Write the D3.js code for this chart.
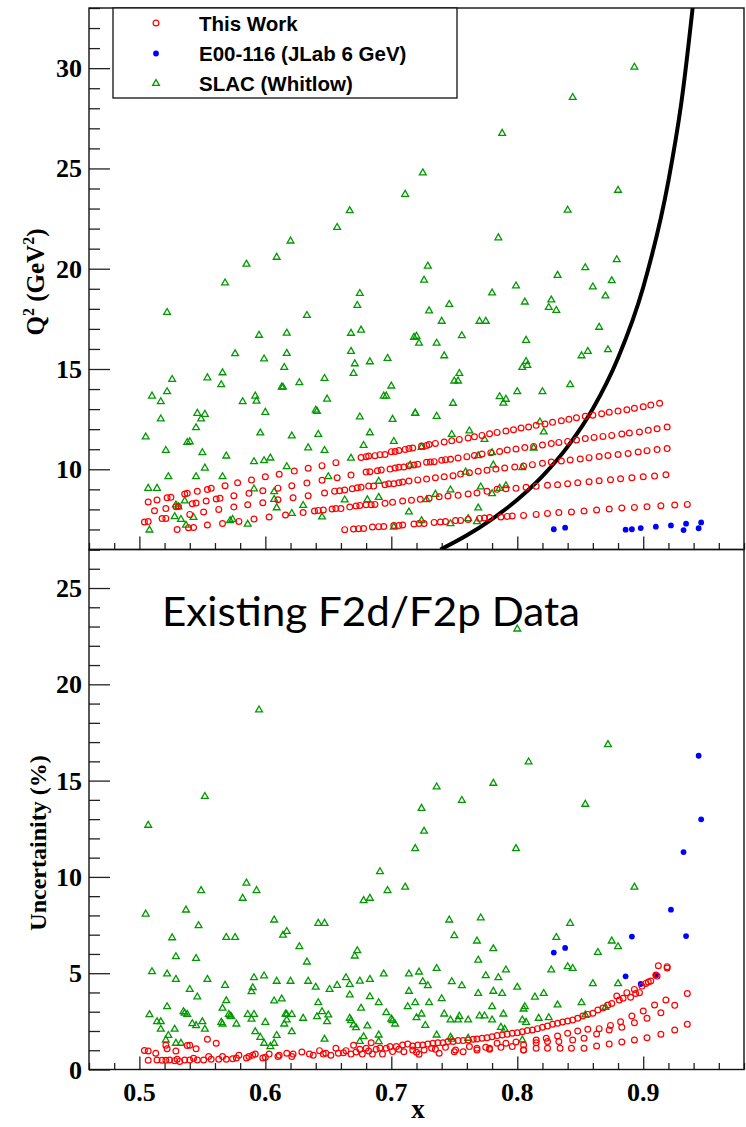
<!DOCTYPE html>
<html>
<head>
<meta charset="utf-8">
<script src="https://cdn.jsdelivr.net/npm/d3@7"></script>
<style>
  body { margin: 0; background: #fff; }
  .tick-label { font-family: "Liberation Serif", serif; font-weight: bold; font-size: 26px; fill: #000; }
  .legend-text { font-family: "Liberation Sans", Arial, sans-serif; font-weight: bold; font-size: 20.5px; fill: #000; }
</style>
</head>
<body>
<div id="chart"></div>
<script>
// ---- data ----
// This Work, top panel: [x, Q2 (GeV^2)]
const thisWorkQ2 = [
  [0.504,7.37],[0.507,7.39],[0.507,8.37],[0.514,8.47],[0.522,8.58],[0.525,8.60],[0.512,7.93],[0.521,8.04],
  [0.518,7.54],[0.521,7.55],[0.530,7.00],[0.529,8.13],[0.531,8.15],[0.536,8.77],[0.538,8.80],[0.540,7.75],
  [0.542,8.28],[0.545,8.32],[0.539,7.09],[0.543,7.10],[0.546,8.90],[0.551,7.87],[0.553,8.42],[0.554,8.99],
  [0.557,9.05],[0.554,7.22],[0.561,8.52],[0.564,8.55],[0.563,8.00],[0.566,7.30],[0.568,9.18],[0.575,8.12],
  [0.575,8.68],[0.578,9.33],[0.579,7.40],[0.586,8.23],[0.587,8.80],[0.589,9.46],[0.591,7.52],[0.598,8.33],
  [0.598,8.93],[0.600,9.63],[0.603,7.62],[0.610,8.48],[0.610,9.06],[0.611,9.75],[0.616,7.72],[0.621,9.18],
  [0.622,8.58],[0.623,9.91],[0.630,7.84],[0.633,9.31],[0.634,8.68],[0.634,10.05],[0.639,7.92],[0.642,7.95],
  [0.646,7.97],[0.645,9.45],[0.647,8.82],[0.645,10.18],[0.653,8.02],[0.656,8.04],[0.660,8.04],[0.657,9.58],
  [0.656,10.33],[0.655,8.91],[0.659,8.93],[0.663,8.97],[0.663,6.99],[0.670,7.02],[0.674,7.04],[0.678,7.05],
  [0.668,9.71],[0.667,8.12],[0.669,9.03],[0.673,9.08],[0.676,9.10],[0.672,8.17],[0.675,8.20],[0.676,10.59],
  [0.680,10.63],[0.682,10.66],[0.680,9.86],[0.683,9.88],[0.680,8.23],[0.684,8.23],[0.687,8.25],[0.685,7.12],
  [0.690,7.14],[0.694,7.15],[0.682,9.16],[0.686,9.16],[0.687,10.68],[0.691,10.73],[0.695,10.74],[0.689,9.93],
  [0.692,9.96],[0.695,8.30],[0.695,9.23],[0.698,9.28],[0.702,9.28],[0.702,7.20],[0.699,10.01],[0.703,10.06],
  [0.700,10.88],[0.703,10.89],[0.701,8.35],[0.706,7.20],
  // row A
  [0.706,10.94],[0.711,10.99],[0.714,11.03],[0.717,11.06],[0.724,11.16],[0.728,11.19],[0.730,11.23],[0.735,11.29],
  [0.742,11.36],[0.748,11.42],[0.754,11.49],[0.761,11.56],[0.766,11.62],[0.772,11.69],[0.778,11.77],[0.784,11.84],
  [0.791,11.91],[0.797,11.97],[0.803,12.06],[0.809,12.11],[0.815,12.19],[0.822,12.26],[0.828,12.34],[0.835,12.42],
  [0.841,12.49],[0.847,12.57],[0.854,12.64],[0.860,12.70],[0.867,12.77],[0.873,12.84],[0.880,12.90],[0.887,12.97],
  [0.893,13.04],[0.900,13.12],[0.906,13.20],[0.913,13.29],
  // row B
  [0.706,10.10],[0.710,10.11],[0.714,10.18],[0.718,10.21],[0.721,10.25],[0.728,10.35],[0.731,10.36],[0.734,10.38],
  [0.740,10.45],[0.743,10.48],[0.747,10.50],[0.753,10.56],[0.760,10.63],[0.766,10.69],[0.772,10.76],[0.779,10.83],
  [0.786,10.89],[0.792,10.96],[0.799,11.01],[0.806,11.08],[0.813,11.14],[0.820,11.21],[0.827,11.28],[0.833,11.34],
  [0.840,11.39],[0.847,11.46],[0.854,11.53],[0.861,11.59],[0.868,11.64],[0.875,11.69],[0.883,11.76],[0.889,11.81],
  [0.897,11.86],[0.904,11.94],[0.911,12.02],[0.919,12.11],
  // row C
  [0.706,9.33],[0.709,9.36],[0.714,9.41],[0.721,9.47],[0.728,9.51],[0.735,9.58],[0.742,9.63],[0.749,9.68],
  [0.755,9.76],[0.762,9.83],[0.769,9.90],[0.776,9.95],[0.783,10.01],[0.790,10.06],[0.798,10.11],[0.805,10.16],
  [0.812,10.23],[0.820,10.30],[0.827,10.36],[0.835,10.41],[0.842,10.46],[0.850,10.51],[0.857,10.58],[0.865,10.64],
  [0.872,10.69],[0.880,10.74],[0.888,10.79],[0.896,10.86],[0.903,10.93],[0.911,10.98],[0.919,11.03],
  // row D
  [0.709,8.42],[0.716,8.45],[0.723,8.50],[0.730,8.55],[0.738,8.63],[0.745,8.67],[0.753,8.70],[0.761,8.77],
  [0.768,8.82],[0.776,8.90],[0.784,9.00],[0.791,9.03],[0.799,9.05],[0.807,9.10],[0.815,9.15],[0.824,9.20],
  [0.832,9.23],[0.840,9.28],[0.848,9.33],[0.857,9.38],[0.865,9.43],[0.874,9.48],[0.882,9.53],[0.891,9.58],
  [0.900,9.63],[0.909,9.66],[0.918,9.73],
  // row E
  [0.709,7.22],[0.718,7.27],[0.722,7.30],[0.726,7.30],[0.734,7.35],[0.739,7.37],[0.743,7.39],[0.751,7.44],
  [0.755,7.45],[0.761,7.50],[0.770,7.55],[0.774,7.57],[0.778,7.59],[0.787,7.62],[0.792,7.65],[0.796,7.67],
  [0.805,7.70],[0.815,7.75],[0.824,7.80],[0.833,7.84],[0.843,7.87],[0.853,7.92],[0.863,7.97],[0.873,8.02],
  [0.883,8.07],[0.893,8.10],[0.903,8.13],[0.914,8.18],[0.925,8.22],[0.935,8.25]
];

// E00-116 (JLab 6 GeV): x, Q2 and uncertainty (%)
const e116X   = [0.829, 0.838, 0.886, 0.891, 0.898, 0.910, 0.922, 0.932, 0.934, 0.944, 0.946];
const e116Q2  = [7.01, 7.09, 6.99, 7.01, 7.07, 7.14, 7.20, 6.97, 7.29, 7.06, 7.35];
const e116Unc = [6.07, 6.31, 4.84, 6.90, 4.44, 4.89, 8.30, 11.29, 6.93, 16.29, 12.99];

// SLAC (Whitlow), top panel: [x, Q2]
const slacQ2 = [
  [0.711,23.71],[0.667,22.89],[0.657,22.06],[0.620,21.38],[0.609,20.57],[0.585,20.23],[0.568,19.29],[0.675,18.77],
  [0.673,18.17],[0.522,17.82],[0.633,17.67],[0.595,16.68],[0.617,16.79],[0.668,16.78],[0.676,16.94],[0.576,15.76],
  [0.617,15.78],[0.599,15.50],[0.668,15.88],[0.671,15.26],[0.683,15.36],[0.697,15.53],[0.615,15.08],[0.566,14.81],
  [0.670,14.78],[0.718,16.58],
  [0.505,11.61],[0.510,13.65],[0.526,14.48],[0.522,13.87],[0.517,13.37],[0.517,12.51],[0.521,10.94],[0.523,9.63],
  [0.507,9.05],[0.514,9.05],[0.529,8.22],[0.531,8.13],[0.528,7.64],[0.533,7.50],[0.537,7.21],[0.508,6.97],
  [0.536,8.42],[0.538,11.34],[0.540,11.37],[0.545,12.07],[0.545,9.63],[0.549,12.51],[0.546,12.79],[0.552,12.74],
  [0.550,10.83],[0.552,10.06],[0.554,14.56],[0.565,14.22],[0.569,10.66],[0.566,9.63],[0.543,7.60],[0.572,7.44],
  [0.574,7.50],[0.586,7.26],[0.582,13.37],[0.591,10.38],[0.591,9.02],[0.592,13.65],[0.593,13.40],[0.596,11.81],
  [0.599,10.43],[0.600,12.84],[0.604,10.56],[0.607,8.88],[0.607,8.50],[0.609,8.08],[0.617,10.13],[0.613,14.10],
  [0.614,14.09],[0.621,11.66],[0.621,7.80],[0.627,14.32],[0.630,8.20],[0.634,11.07],[0.640,12.95],[0.641,12.89],
  [0.642,11.74],[0.645,7.62],[0.647,10.94],[0.647,14.53],[0.649,13.50],[0.650,9.63],[0.663,8.47],[0.668,10.55],
  [0.675,12.61],[0.678,11.19],[0.681,8.48],[0.683,11.82],[0.690,9.40],[0.690,8.60],[0.694,13.65],[0.696,13.65],
  [0.700,14.15],[0.701,12.49],[0.702,11.39],[0.714,7.87],[0.719,12.80],[0.724,7.44],[0.724,11.09],[0.728,8.48],
  [0.735,8.75],[0.736,12.64],[0.702,7.12],
  [0.893,30.05],[0.844,28.54],[0.788,26.75],[0.725,24.78],[0.880,23.91],[0.840,22.92],[0.785,21.54],[0.729,20.13],
  [0.726,19.43],[0.879,20.45],[0.854,20.05],[0.832,19.67],[0.875,19.40],[0.860,19.09],[0.799,19.14],[0.780,18.79],
  [0.870,18.64],[0.746,18.22],[0.806,18.34],[0.827,18.44],[0.825,18.07],[0.831,17.92],[0.730,17.90],[0.740,17.38],
  [0.770,17.38],[0.775,17.38],[0.865,17.08],[0.756,16.66],[0.720,16.63],[0.722,16.29],[0.736,16.29],[0.807,16.43],
  [0.872,15.96],[0.856,15.88],[0.851,15.66],[0.742,15.66],[0.807,15.38],[0.808,15.18],[0.804,15.08],
  [0.754,14.78],[0.750,14.40],[0.753,14.40],[0.842,14.22],[0.786,13.62],[0.791,13.49],[0.789,13.30],[0.800,13.87],
  [0.820,13.87],[0.749,13.29],[0.719,12.79],[0.748,11.74],[0.762,11.91],[0.774,11.49],[0.821,11.86],[0.818,12.36],
  [0.769,10.68],[0.780,10.83],[0.813,11.06],[0.781,10.21],[0.804,10.08],[0.715,10.21],[0.759,9.86],[0.747,8.97],
  [0.771,9.12],[0.780,8.78],[0.786,9.05],[0.791,9.18],[0.769,8.07],[0.747,7.29],[0.768,7.39],[0.761,7.54]
];

// This Work, bottom panel: [x, uncertainty (%)]
const thisWorkUnc = [
  [0.504,0.99],[0.507,0.96],[0.513,0.84],[0.507,0.48],[0.514,0.49],[0.518,0.48],[0.521,0.48],[0.524,0.49],
  [0.528,0.46],[0.530,0.53],[0.532,0.42],[0.536,0.49],[0.540,0.49],[0.543,0.58],[0.546,0.49],[0.551,0.49],
  [0.555,0.67],[0.557,0.53],[0.563,0.53],[0.566,0.67],[0.569,0.53],[0.574,0.56],[0.577,0.60],[0.579,0.74],
  [0.585,0.60],[0.587,0.67],[0.590,0.74],[0.592,0.80],[0.598,0.60],[0.600,0.63],[0.603,0.80],[0.610,0.67],
  [0.611,0.74],[0.617,0.84],[0.621,0.67],[0.622,0.80],[0.629,0.91],[0.635,0.80],[0.638,0.74],[0.643,0.98],
  [0.646,0.80],[0.648,0.84],[0.652,0.74],[0.656,1.10],[0.658,0.84],[0.662,0.87],[0.664,0.98],[0.668,0.80],
  [0.670,1.26],[0.672,0.91],[0.675,1.05],[0.677,0.80],[0.680,1.10],[0.682,0.96],[0.684,1.39],[0.685,0.80],
  [0.688,1.05],[0.691,1.12],[0.693,0.80],[0.696,1.10],[0.699,1.19],[0.701,0.93],[0.704,1.19],[0.706,1.05],
  [0.521,1.26],[0.522,1.08],[0.529,0.96],[0.538,1.24],[0.540,1.26],[0.545,1.08],[0.554,1.57],[0.561,1.36],
  // upper band
  [0.709,1.27],[0.713,1.32],[0.717,1.22],[0.721,1.27],[0.725,1.27],[0.729,1.32],[0.733,1.36],[0.737,1.39],
  [0.741,1.39],[0.745,1.45],[0.749,1.45],[0.753,1.50],[0.757,1.50],[0.761,1.53],[0.765,1.57],[0.768,1.58],
  [0.772,1.62],[0.776,1.65],[0.780,1.70],[0.784,1.76],[0.788,1.79],[0.792,1.83],[0.796,1.88],[0.800,1.91],
  [0.804,1.96],[0.808,2.02],[0.812,2.05],[0.816,2.12],[0.820,2.19],[0.824,2.26],[0.828,2.35],[0.832,2.40],
  [0.836,2.47],[0.840,2.52],[0.844,2.57],[0.848,2.66],[0.852,2.78],[0.856,2.86],[0.860,2.92],[0.864,3.09],
  [0.868,3.19],[0.872,3.35],[0.875,3.43],[0.879,3.82],[0.881,3.61],[0.884,3.70],[0.887,3.99],[0.890,3.75],
  [0.893,4.16],[0.894,3.95],[0.897,3.99],[0.899,4.33],[0.902,4.47],[0.904,4.54],[0.906,4.59],[0.910,4.91],
  [0.911,4.85],[0.912,5.39],[0.919,5.34],[0.919,5.27],
  // middle band
  [0.710,0.92],[0.717,1.01],[0.722,0.79],[0.726,1.01],[0.732,1.10],[0.738,0.84],[0.743,1.15],[0.750,0.92],
  [0.757,0.92],[0.762,1.19],[0.768,1.01],[0.775,1.15],[0.778,1.05],[0.784,1.36],[0.791,1.36],[0.799,1.43],
  [0.805,1.27],[0.815,1.53],[0.823,1.62],[0.832,1.74],[0.840,1.88],[0.848,2.00],[0.856,2.09],[0.865,2.12],
  [0.874,2.29],[0.882,2.48],[0.891,2.78],[0.900,3.04],[0.909,3.35],[0.918,3.61],[0.925,3.33],[0.935,3.95],
  [0.914,2.95],[0.903,2.66],[0.893,2.43],[0.883,2.19],[0.873,2.05],[0.863,1.84],[0.853,1.62],[0.844,1.53],
  [0.833,1.45],[0.824,1.45],[0.815,1.39],[0.805,1.01],
  // lowest band
  [0.720,0.89],[0.735,1.05],[0.751,1.01],[0.768,1.10],[0.778,1.10],[0.787,1.15],[0.796,1.19],[0.805,1.01],
  [0.815,1.10],[0.824,1.10],[0.834,1.10],[0.843,1.10],[0.853,1.10],[0.863,1.22],[0.873,1.32],[0.883,1.43],
  [0.893,1.53],[0.903,1.65],[0.914,1.83],[0.925,2.05],[0.935,2.35]
];

// SLAC (Whitlow), bottom panel: [x, uncertainty (%)]
const slacUnc = [
  [0.800,22.87],[0.595,18.67],[0.552,14.18],[0.507,12.68],[0.549,9.29],[0.585,9.68],[0.593,9.29],[0.582,8.89],
  [0.678,8.77],[0.683,8.89],[0.691,10.27],[0.697,9.29],
  [0.505,8.07],[0.537,8.28],[0.547,7.47],[0.526,6.84],[0.529,5.86],[0.545,5.77],[0.510,5.08],[0.522,4.96],
  [0.529,4.68],[0.554,4.68],[0.540,4.16],[0.546,3.77],[0.522,3.26],[0.508,2.85],[0.514,2.48],[0.517,2.48],
  [0.517,2.09],[0.528,2.09],[0.523,1.77],[0.521,1.53],[0.529,1.36],[0.533,1.36],[0.535,3.00],[0.536,2.92],
  [0.538,2.86],[0.542,2.38],[0.545,2.28],[0.550,2.48],[0.552,2.09],[0.569,6.86],[0.576,6.86],[0.568,4.37],
  [0.566,3.18],[0.569,3.57],[0.565,2.45],[0.566,2.36],[0.571,2.86],[0.572,2.78],[0.573,2.74],[0.577,2.36],
  [0.586,2.86],[0.589,2.61],[0.591,2.86],[0.589,4.04],[0.590,4.25],[0.591,4.77],[0.599,4.86],[0.600,2.45],
  [0.592,1.96],[0.596,1.67],[0.599,1.36],[0.604,1.19],[0.607,1.36],[0.609,1.77],[0.607,3.56],[0.613,3.66],
  [0.609,4.58],[0.620,4.58],[0.616,2.88],[0.617,2.86],[0.617,2.57],[0.615,2.36],[0.621,2.86],[0.621,1.96],
  [0.630,2.66],[0.607,7.76],[0.614,6.97],[0.617,7.17],[0.627,6.38],[0.633,5.58],[0.642,7.59],[0.647,7.59],
  [0.634,4.58],[0.640,4.27],[0.642,3.47],[0.641,2.74],[0.645,3.00],[0.650,2.83],[0.649,2.48],[0.647,1.57],
  [0.651,4.16],[0.657,4.37],[0.664,4.77],[0.667,3.87],[0.667,2.66],[0.668,2.54],[0.670,2.31],[0.672,2.17],
  [0.667,4.42],[0.671,5.89],[0.673,6.17],[0.675,4.59],[0.676,3.18],[0.675,1.46],[0.678,1.70],[0.681,2.26],
  [0.683,4.68],[0.683,3.78],[0.690,3.47],[0.690,1.79],[0.690,1.45],[0.694,4.96],[0.696,2.95],[0.700,2.62],
  [0.701,2.54],[0.703,2.36],
  [0.872,16.87],[0.809,15.97],[0.736,14.67],[0.781,14.86],[0.756,13.97],[0.854,13.77],[0.724,13.56],[0.726,12.37],
  [0.719,11.47],[0.799,11.47],[0.711,9.47],[0.893,9.47],[0.746,7.76],[0.771,7.87],[0.750,6.95],[0.842,7.59],
  [0.831,6.86],[0.768,6.67],[0.781,6.27],[0.875,6.67],[0.880,6.38],[0.864,6.08],[0.714,4.96],[0.722,5.06],
  [0.736,5.25],[0.725,4.56],[0.729,4.35],[0.748,4.56],[0.756,4.35],[0.775,4.87],[0.785,4.77],[0.791,5.17],
  [0.769,5.68],[0.827,5.17],[0.840,5.34],[0.844,5.25],[0.860,4.46],[0.880,4.46],[0.800,4.27],[0.714,4.06],
  [0.769,3.95],[0.781,4.06],[0.788,3.95],[0.814,3.76],[0.821,3.95],[0.740,3.68],[0.719,3.47],[0.730,3.47],
  [0.780,3.26],[0.851,3.47],[0.832,3.35],[0.806,3.26],[0.805,3.14],[0.713,3.26],[0.742,2.88],[0.754,2.76],
  [0.747,2.57],[0.753,2.57],[0.761,2.57],[0.770,2.78],[0.774,2.78],[0.780,2.57],[0.789,2.88],[0.804,2.57],
  [0.807,2.45],[0.817,2.66],[0.825,2.69],[0.720,2.69],[0.724,2.88],[0.727,2.29],[0.787,2.19],[0.790,2.09],
  [0.736,1.79],[0.747,1.67],[0.748,1.57],[0.761,1.62],[0.804,1.53],[0.870,3.23],[0.854,2.83]
];

// black limit curve in the top panel
const curveX  = [0.739, 0.760, 0.780, 0.800, 0.820, 0.840, 0.860, 0.880, 0.900, 0.920, 0.930, 0.945];
const curveQ2 = [6.00, 6.71, 7.52, 8.48, 9.66, 11.13, 13.02, 15.55, 19.08, 24.38, 28.16, 36.4];

// tick labels
const xTicks   = [0.5, 0.6, 0.7, 0.8, 0.9];
const topTicks = [10, 15, 20, 25, 30];
const botTicks = [0, 5, 10, 15, 20, 25];

const legendNames = ["This Work", "E00-116 (JLab 6 GeV)", "SLAC (Whitlow)"];

// ---- layout ----
const W = 746, H = 1127;
const left = 89, right = 744;
const topY0 = 8, midY = 549.5, botY1 = 1069.5;

const svg = d3.select("#chart").append("svg")
  .attr("width", W).attr("height", H);

const x = d3.scaleLinear().domain([0.46, 0.98]).range([left, right]);
const yTop = d3.scaleLinear().domain([6, 33]).range([midY, topY0]);
const yBot = d3.scaleLinear().domain([0, 27]).range([botY1, midY]);

const RED = "#ff0000", BLUE = "#0000ff", GREEN = "#009a00";
const R = 2.9;

// clip paths
const defs = svg.append("defs");
defs.append("clipPath").attr("id", "clipTop").append("rect")
  .attr("x", left).attr("y", topY0).attr("width", right - left).attr("height", midY - topY0);
defs.append("clipPath").attr("id", "clipBot").append("rect")
  .attr("x", left).attr("y", midY).attr("width", right - left).attr("height", botY1 - midY);

const triPath = d3.symbol().type(d3.symbolTriangle).size(20)();

// draw axes for a panel
function drawAxes(yScale, y0, y1, majors, minorStep) {
  const g = svg.append("g");
  const [d0, d1] = yScale.domain();
  const minors = d3.range(Math.ceil(d0), d1 + 1e-9, minorStep).filter(v => majors.indexOf(v) < 0);

  // y minor + major ticks (inside the frame)
  g.append("g").attr("transform", `translate(${left},0)`)
    .call(d3.axisRight(yScale).tickValues(minors).tickSize(11).tickFormat(""))
    .call(a => a.select(".domain").remove());
  g.append("g").attr("transform", `translate(${left},0)`)
    .call(d3.axisRight(yScale).tickValues(majors).tickSize(21).tickFormat(""))
    .call(a => a.select(".domain").remove());

  // x ticks along bottom edge
  const xMin = d3.range(0.46, 0.981, 0.02).map(v => +v.toFixed(2)).filter(v => xTicks.indexOf(v) < 0);
  g.append("g").attr("transform", `translate(0,${y1})`)
    .call(d3.axisTop(x).tickValues(xMin).tickSize(6.5).tickFormat(""))
    .call(a => a.select(".domain").remove());
  g.append("g").attr("transform", `translate(0,${y1})`)
    .call(d3.axisTop(x).tickValues(xTicks).tickSize(13).tickFormat(""))
    .call(a => a.select(".domain").remove());

  g.selectAll(".tick line").attr("stroke", "#222").attr("stroke-width", 1.3);

  // labels
  g.selectAll("text.ylab").data(majors).enter().append("text")
    .attr("class", "tick-label")
    .attr("x", 82).attr("y", d => yScale(d) + 9)
    .attr("text-anchor", "end")
    .text(d => d);
  return g;
}

drawAxes(yTop, topY0, midY, topTicks, 1);
drawAxes(yBot, midY, botY1, botTicks, 1);

// ---- top panel marks ----
const topG = svg.append("g").attr("clip-path", "url(#clipTop)");

topG.append("path")
  .datum(curveX.map((d, i) => [d, curveQ2[i]]))
  .attr("fill", "none").attr("stroke", "#000").attr("stroke-width", 4)
  .attr("d", d3.line().x(d => x(d[0])).y(d => yTop(d[1])).curve(d3.curveMonotoneX));

topG.selectAll("path.slac").data(slacQ2).enter().append("path")
  .attr("transform", d => `translate(${x(d[0])},${yTop(d[1])})`)
  .attr("d", triPath).attr("fill", "none").attr("stroke", GREEN).attr("stroke-width", 1.3);

topG.selectAll("circle.tw").data(thisWorkQ2).enter().append("circle")
  .attr("cx", d => x(d[0])).attr("cy", d => yTop(d[1])).attr("r", R)
  .attr("fill", "none").attr("stroke", RED).attr("stroke-width", 1.2);

topG.selectAll("circle.e116").data(e116X).enter().append("circle")
  .attr("cx", d => x(d)).attr("cy", (d, i) => yTop(e116Q2[i])).attr("r", R)
  .attr("fill", BLUE);

// ---- bottom panel marks ----
const botG = svg.append("g").attr("clip-path", "url(#clipBot)");

botG.selectAll("path.slac").data(slacUnc).enter().append("path")
  .attr("transform", d => `translate(${x(d[0])},${yBot(d[1])})`)
  .attr("d", triPath).attr("fill", "none").attr("stroke", GREEN).attr("stroke-width", 1.3);

botG.selectAll("circle.e116").data(e116X).enter().append("circle")
  .attr("cx", d => x(d)).attr("cy", (d, i) => yBot(e116Unc[i])).attr("r", R)
  .attr("fill", BLUE);

botG.selectAll("circle.tw").data(thisWorkUnc).enter().append("circle")
  .attr("cx", d => x(d[0])).attr("cy", d => yBot(d[1])).attr("r", R)
  .attr("fill", "none").attr("stroke", RED).attr("stroke-width", 1.2);

// frames
[[topY0, midY], [midY, botY1]].forEach(([a, b]) => {
  svg.append("rect").attr("x", left).attr("y", a)
    .attr("width", right - left).attr("height", b - a)
    .attr("fill", "none").attr("stroke", "#111").attr("stroke-width", 1.4);
});

// x tick labels
svg.selectAll("text.xlab").data(xTicks).enter().append("text")
  .attr("class", "tick-label")
  .attr("x", d => x(d)).attr("y", 1101)
  .attr("text-anchor", "middle")
  .text(d => d.toFixed(1));

// axis titles
svg.append("text")
  .attr("x", 418).attr("y", 1118)
  .attr("text-anchor", "middle")
  .style("font-family", "Liberation Serif, serif").style("font-weight", "bold").style("font-size", "27px")
  .text("x");

const q2Title = svg.append("text")
  .attr("transform", "translate(44,282) rotate(-90)")
  .attr("text-anchor", "middle")
  .style("font-family", "Liberation Serif, serif").style("font-weight", "bold").style("font-size", "25px");
q2Title.append("tspan").text("Q");
q2Title.append("tspan").attr("dy", -10).style("font-size", "16px").text("2");
q2Title.append("tspan").attr("dy", 10).text(" (GeV");
q2Title.append("tspan").attr("dy", -10).style("font-size", "16px").text("2");
q2Title.append("tspan").attr("dy", 10).text(")");

svg.append("text")
  .attr("transform", "translate(46,843) rotate(-90)")
  .attr("text-anchor", "middle")
  .style("font-family", "Liberation Serif, serif").style("font-weight", "bold").style("font-size", "24px")
  .text("Uncertainity (%)");

// annotation
svg.append("text")
  .attr("x", 162).attr("y", 626)
  .attr("textLength", 418).attr("lengthAdjust", "spacingAndGlyphs")
  .style("font-family", "Lato, 'Open Sans', sans-serif").style("font-size", "41px").style("fill", "#000")
  .text("Existing F2d/F2p Data");

// legend
const lg = svg.append("g");
lg.append("rect").attr("x", 113).attr("y", topY0).attr("width", 344).attr("height", 90)
  .attr("fill", "#fff").attr("stroke", "#111").attr("stroke-width", 1.3);
const legY = [23, 53.5, 83.5];
legendNames.forEach((name, i) => {
  const cy = legY[i];
  if (i === 0) {
    lg.append("circle").attr("cx", 156).attr("cy", cy).attr("r", R)
      .attr("fill", "none").attr("stroke", RED).attr("stroke-width", 1.2);
  } else if (i === 1) {
    lg.append("circle").attr("cx", 156).attr("cy", cy).attr("r", R).attr("fill", BLUE);
  } else {
    lg.append("path").attr("transform", `translate(156,${cy})`).attr("d", triPath)
      .attr("fill", "none").attr("stroke", GREEN).attr("stroke-width", 1.3);
  }
  lg.append("text").attr("class", "legend-text")
    .attr("x", 199).attr("y", cy + 7.5)
    .text(name);
});
</script>
</body>
</html>
